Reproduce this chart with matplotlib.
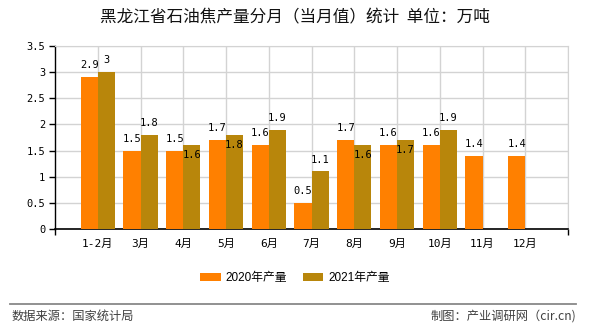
import matplotlib
matplotlib.use("Agg")
import matplotlib.pyplot as plt
from matplotlib.patches import Patch
from matplotlib.lines import Line2D
import numpy as np

categories = ["1-2月", "3月", "4月", "5月", "6月", "7月", "8月", "9月", "10月", "11月", "12月"]
values_2020 = [2.9, 1.5, 1.5, 1.7, 1.6, 0.5, 1.7, 1.6, 1.6, 1.4, 1.4]
values_2021 = [3, 1.8, 1.6, 1.8, 1.9, 1.1, 1.6, 1.7, 1.9, None, None]
series_names = ["2020年产量", "2021年产量"]
yticks = [0, 0.5, 1, 1.5, 2, 2.5, 3, 3.5]
ytick_labels = ["0", "0.5", "1", "1.5", "2", "2.5", "3", "3.5"]
title = "黑龙江省石油焦产量分月（当月值）统计  单位：万吨"
source_left = "数据来源：国家统计局"
source_right = "制图：产业调研网（cir.cn)"

c2020 = "#FF8000"
c2021 = "#B8860B"
cjk = ["Noto Sans CJK SC", "DejaVu Sans"]
mono = ["DejaVu Sans Mono", "Noto Sans CJK SC"]
lat = ["Liberation Sans", "Noto Sans CJK SC"]

fig = plt.figure(figsize=(5.9, 3.3), dpi=100)
W, H = 590, 330
ax = fig.add_axes([55 / W, 1 - 229 / H, (568 - 55) / W, (229 - 46) / H])

x = np.arange(1, len(categories) + 1)
bw = 0.4
ax.bar(x - bw / 2, values_2020, width=bw, color=c2020, zorder=3)
x21 = [xi for xi, v in zip(x, values_2021) if v is not None]
v21 = [v for v in values_2021 if v is not None]
ax.bar(np.array(x21) + bw / 2, v21, width=bw, color=c2021, zorder=3)

def fmt(v):
    return ("%g" % v)

for xi, a, b in zip(x, values_2020, values_2021):
    ax.annotate(fmt(a), (xi - bw / 2, a), xytext=(0, 5), textcoords="offset points",
                ha="center", va="bottom", fontsize=7.5, family=mono, zorder=5)
    if b is not None:
        lab = fmt(b)
        if abs(b - a) <= 0.15 and len(lab) > 1:
            ax.annotate(lab, (xi + bw / 2, b), xytext=(0, -7), textcoords="offset points",
                        ha="center", va="center", fontsize=7.5, family=mono, zorder=5)
        else:
            ax.annotate(lab, (xi + bw / 2, b), xytext=(0, 5), textcoords="offset points",
                        ha="center", va="bottom", fontsize=7.5, family=mono, zorder=5)

ax.set_xlim(0, len(categories) + 1)
ax.set_ylim(0, 3.5)
ax.set_yticks(yticks)
ax.set_yticklabels(ytick_labels, family=mono, fontsize=7.5)
ax.set_xticks(x)
ax.set_xticklabels(categories, family=mono, fontsize=8)
ax.tick_params(axis="x", length=0, pad=7)
ax.tick_params(axis="y", length=4, width=1, pad=3)
ax.set_xticks([0, len(categories) + 1], minor=True)
ax.tick_params(axis="x", which="minor", length=4, width=1)

ax.grid(True, color="#d3d3d3", linewidth=1, zorder=0)
ax.axvline(len(categories) + 1, color="#d3d3d3", linewidth=1, zorder=0)
ax.set_axisbelow(True)
for s in ["top", "right"]:
    ax.spines[s].set_color("#d3d3d3")
ax.spines["left"].set_linewidth(1)
ax.spines["bottom"].set_linewidth(1.2)

fig.text(0.5, 1 - 18 / H, title, ha="center", va="center", fontsize=12, family=cjk, color="#111111")

handles = [Patch(facecolor=c2020), Patch(facecolor=c2021)]
fig.legend(handles, series_names, loc="center", bbox_to_anchor=(0.5, 1 - 278 / H), ncol=2,
           frameon=False, prop={"family": lat, "size": 8.5}, handlelength=1.7,
           handleheight=0.7, handletextpad=0.4, columnspacing=1.4)

fig.add_artist(Line2D([10 / W, 576 / W], [1 - 304 / H, 1 - 304 / H], transform=fig.transFigure,
                      color="#888888", linewidth=1.3))
fig.text(12 / W, 1 - 316 / H, source_left, ha="left", va="center", fontsize=8.8, family=cjk, color="#404040")
fig.text(576 / W, 1 - 316 / H, source_right, ha="right", va="center", fontsize=8.8, family=cjk, color="#404040")

fig.savefig("out.png", dpi=100)
